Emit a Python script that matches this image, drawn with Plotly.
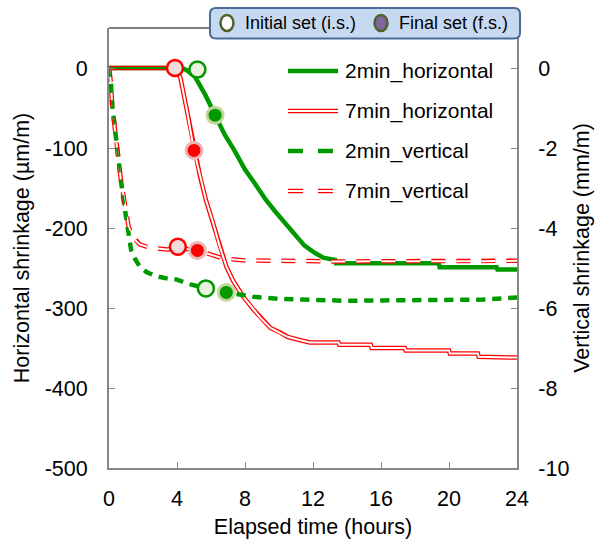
import plotly.graph_objects as go

# ---- data -------------------------------------------------------------
# horizontal shrinkage (um/m), left axis
hz_2min_t = [0, 4.3, 4.6, 5.06, 5.65, 6.24, 6.8, 7.4, 8.0, 8.6, 9.2, 9.8, 10.4,
             10.9, 11.5, 12.1, 12.6, 13.3, 13.35, 19.4, 19.45, 22.8, 22.85, 24]
hz_2min_v = [0, 0, -3, -11, -33, -59, -83, -104, -127, -145, -164, -180, -195,
             -209, -222, -231, -237, -240, -244, -244, -249, -249, -252, -252]

hz_7min_t = [0, 3.88, 4.2, 4.6, 5.0, 5.35, 5.7, 6.1, 6.5, 6.9, 7.3, 7.9, 8.5, 8.9,
             9.5, 10.1, 10.5, 11.2, 11.8, 13.5, 13.55, 15.4, 15.45, 17.4, 17.45,
             20.0, 20.05, 21.7, 21.75, 24]
hz_7min_v = [0, 0, -12, -55, -103, -135, -165, -192, -222, -248, -266, -286, -302,
             -312, -325, -331, -336, -340, -343, -343, -346, -346, -350, -350, -353,
             -353, -357, -357, -361, -362]

# vertical shrinkage (mm/m), right axis
vt_2min_t = [0, 0.05, 0.12, 0.18, 0.3, 0.4, 0.55, 0.7, 0.85, 1.0, 1.15, 1.3, 1.5,
             1.8, 2.2, 2.8, 3.4, 4.0, 4.8, 5.7, 6.9, 8.5, 10, 12, 14, 16, 18, 20,
             22, 24]
vt_2min_v = [0, -0.15, -0.4, -0.9, -1.4, -1.8, -2.3, -2.8, -3.3, -3.75, -4.2, -4.55,
             -4.75, -4.96, -5.1, -5.21, -5.26, -5.29, -5.41, -5.51, -5.61, -5.72,
             -5.77, -5.8, -5.82, -5.81, -5.8, -5.81, -5.79, -5.74]

vt_7min_t = [0, 0.05, 0.12, 0.18, 0.3, 0.4, 0.55, 0.7, 0.85, 1.0, 1.15, 1.35, 1.6,
             1.8, 2.4, 3.4, 4.05, 5.2, 6.7, 8, 10, 12, 14, 16, 18, 20, 22, 24]
vt_7min_v = [0, -0.15, -0.4, -0.9, -1.4, -1.8, -2.3, -2.8, -3.2, -3.6, -3.95, -4.18,
             -4.33, -4.41, -4.49, -4.54, -4.5, -4.56, -4.76, -4.81, -4.82, -4.84,
             -4.84, -4.83, -4.83, -4.84, -4.83, -4.82]

# setting times: (initial set, final set)
set_hz_2min_t = [5.2, 6.24]
set_hz_2min_v = [-2, -59]
set_hz_7min_t = [3.88, 5.0]
set_hz_7min_v = [0, -103]
set_vt_2min_t = [5.7, 6.9]
set_vt_2min_v = [-5.51, -5.61]
set_vt_7min_t = [4.05, 5.2]
set_vt_7min_v = [-4.47, -4.56]

series_names = ["2min_horizontal", "7min_horizontal", "2min_vertical", "7min_vertical"]
x_ticks = [0, 4, 8, 12, 16, 20, 24]
y_left_ticks = [0, -100, -200, -300, -400, -500]
y_right_ticks = [0, -2, -4, -6, -8, -10]

# ---- styles -----------------------------------------------------------
GREEN = "#009900"
RED = "#ff0000"
GREEN_TINT = "#ebf1de"
GREEN_HALO = "#c3d69b"
RED_TINT = "#f2dcdb"
RED_HALO = "#e6b9b8"
AXIS = "#868686"
FONT = "Arial, Liberation Sans, sans-serif"
DASH_G = "9px,7px"
DASH_R = "14px,11px"
TXT = 21.5

fig = go.Figure()

def line(x, y, color, width, dash="solid", axis="y"):
    fig.add_trace(go.Scatter(x=x, y=y, mode="lines", yaxis=axis, showlegend=False,
                             hoverinfo="skip",
                             line=dict(color=color, width=width, dash=dash)))

# horizontal series (left axis)
line(hz_2min_t, hz_2min_v, GREEN, 4.5)
line(hz_7min_t, hz_7min_v, RED, 4.5)
line(hz_7min_t, hz_7min_v, "white", 2)
line(hz_2min_t, hz_2min_v, GREEN, 2)      # shows through the double red line

# vertical series (right axis)
line(vt_2min_t, vt_2min_v, GREEN, 4.5, DASH_G, "y2")
line(vt_7min_t, vt_7min_v, RED, 4.5, DASH_R, "y2")
line(vt_7min_t, vt_7min_v, "white", 2, DASH_R, "y2")
line(vt_2min_t, vt_2min_v, GREEN, 2, DASH_G, "y2")

def set_marks(t, v, color, tint, halo, axis="y"):
    # initial set: pale open circle, final set: solid circle with pale rim
    fig.add_trace(go.Scatter(x=t[:1], y=v[:1], mode="markers", yaxis=axis,
                             showlegend=False, hoverinfo="skip",
                             marker=dict(size=16, color=tint,
                                         line=dict(color=color, width=2.5))))
    fig.add_trace(go.Scatter(x=t[1:], y=v[1:], mode="markers", yaxis=axis,
                             showlegend=False, hoverinfo="skip",
                             marker=dict(size=16, color=color,
                                         line=dict(color=halo, width=3))))

set_marks(set_hz_2min_t, set_hz_2min_v, GREEN, GREEN_TINT, GREEN_HALO)
set_marks(set_hz_7min_t, set_hz_7min_v, RED, RED_TINT, RED_HALO)
set_marks(set_vt_2min_t, set_vt_2min_v, GREEN, GREEN_TINT, GREEN_HALO, "y2")
set_marks(set_vt_7min_t, set_vt_7min_v, RED, RED_TINT, RED_HALO, "y2")

# ---- layout -----------------------------------------------------------
axis_common = dict(showline=True, linecolor=AXIS, linewidth=2, ticks="inside",
                   ticklen=6, tickcolor=AXIS, tickwidth=1, showgrid=False,
                   zeroline=False, tickfont=dict(family=FONT, size=TXT, color="black"))

def labels(vals):
    return [str(v) for v in vals]   # plain hyphen-minus

fig.update_layout(
    width=611, height=547,
    margin=dict(l=109, r=94, t=28, b=79),
    paper_bgcolor="white", plot_bgcolor="white",
    font=dict(family=FONT, color="black"),
    showlegend=False,
    xaxis=dict(range=[0, 24], tickvals=x_ticks, ticktext=labels(x_ticks),
               ticklabelstandoff=10,
               title=dict(text="Elapsed time (hours)", font=dict(size=TXT), standoff=9),
               **axis_common),
    yaxis=dict(range=[-500, 50], tickvals=y_left_ticks, ticktext=labels(y_left_ticks),
               ticklabelstandoff=15,
               title=dict(text="Horizontal shrinkage (µm/m)", font=dict(size=TXT),
                          standoff=9),
               **axis_common),
    yaxis2=dict(range=[-10, 1], tickvals=y_right_ticks, ticktext=labels(y_right_ticks),
                overlaying="y", side="right", ticklabelstandoff=15,
                title=dict(text="Vertical shrinkage (mm/m)", font=dict(size=TXT),
                           standoff=6),
                **axis_common),
)

shapes = []
annotations = []

# black upper border of the plot area
shapes.append(dict(type="line", xref="paper", yref="paper", x0=0, x1=1, y0=1, y1=1,
                   line=dict(color="black", width=1)))

# series key inside the plot
key_y = [0.9023, 0.8114, 0.7205, 0.6295]
kx0, kx1, ktx = 0.4387, 0.5613, 0.5735
key_styles = [
    [(GREEN, 4.5, "solid")],
    [(RED, 4.5, "solid"), ("white", 2, "solid")],
    [(GREEN, 4.5, "15px,15px")],
    [(RED, 4.5, "15px,15px"), ("white", 2, "15px,15px")],
]
for name, yk, styles in zip(series_names, key_y, key_styles):
    for color, width, dash in styles:
        shapes.append(dict(type="line", xref="paper", yref="paper", x0=kx0, x1=kx1,
                           y0=yk, y1=yk, line=dict(color=color, width=width, dash=dash)))
    annotations.append(dict(text=name, xref="paper", yref="paper", x=ktx, y=yk,
                            xanchor="left", yanchor="middle", showarrow=False,
                            font=dict(size=21, family=FONT, color="black")))

# setting-time key box at the top
x0, x1, y0, y1 = 0.2475, 1.0074, 0.9761, 1.0455
rx, ry = 0.0147, 0.0136
box = (f"M {x0+rx},{y1} L {x1-rx},{y1} Q {x1},{y1} {x1},{y1-ry} "
       f"L {x1},{y0+ry} Q {x1},{y0} {x1-rx},{y0} L {x0+rx},{y0} "
       f"Q {x0},{y0} {x0},{y0+ry} L {x0},{y1-ry} Q {x0},{y1} {x0+rx},{y1} Z")
shapes.append(dict(type="path", xref="paper", yref="paper", path=box,
                   fillcolor="#c6d9f1", line=dict(color="#4a6b97", width=2)))

set_key = [("Initial set (i.s.)", 0.2892, 0.3284, "white"),
           ("Final set (f.s.)", 0.6667, 0.7059, "#8064a2")]
ym = 1.0114
for label, mx, tx, fill in set_key:
    shapes.append(dict(type="circle", xref="paper", yref="paper",
                       xsizemode="pixel", ysizemode="pixel", xanchor=mx, yanchor=ym,
                       x0=-6.5, x1=6.5, y0=-8, y1=8, fillcolor=fill,
                       line=dict(color="#4f6228", width=2.5)))
    annotations.append(dict(text=label, xref="paper", yref="paper", x=tx, y=ym,
                            xanchor="left", yanchor="middle", showarrow=False,
                            font=dict(size=18, family=FONT, color="black")))

fig.update_layout(shapes=shapes, annotations=annotations)

fig.write_html("out.html")
